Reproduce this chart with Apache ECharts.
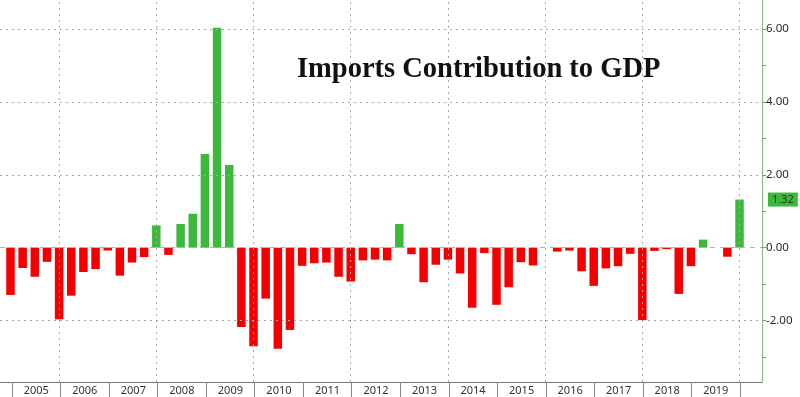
<!DOCTYPE html>
<html>
<head>
<meta charset="utf-8">
<script src="https://cdn.jsdelivr.net/npm/echarts@6/dist/echarts.min.js"></script>
<style>
  html, body { margin: 0; padding: 0; background: #fff; }
  #chart { width: 800px; height: 397px; }
</style>
</head>
<body>
<div id="chart"></div>
<script>
// 年份（下方标签）
const years = ['2005', '2006', '2007', '2008', '2009', '2010', '2011', '2012',
    '2013', '2014', '2015', '2016', '2017', '2018', '2019'];

// 季度数值（按顺序，共61个）
const contribution = [
    -1.30, -0.56, -0.80, -0.39, -1.97, -1.32, -0.67, -0.59,
    -0.08, -0.77, -0.41, -0.26, 0.61, -0.20, 0.65, 0.93,
    2.57, 6.04, 2.27, -2.18, -2.71, -1.40, -2.78, -2.26,
    -0.50, -0.43, -0.41, -0.80, -0.93, -0.35, -0.33, -0.35,
    0.65, -0.18, -0.95, -0.47, -0.33, -0.71, -1.65, -0.15,
    -1.57, -1.09, -0.40, -0.49, 0.00, -0.11, -0.08, -0.65,
    -1.05, -0.57, -0.51, -0.17, -1.99, -0.09, -0.04, -1.27,
    -0.51, 0.22, 0.00, -0.25, 1.32
];

// 右侧坐标轴
const yLabels = [-2, 0, 2, 4, 6];
const yTicks = [-3, -2, -1, 0, 1, 2, 3, 4, 5, 6];
// 横向网格线（0 另画虚线）
const hGrid = [-2, 2, 4, 6];
// 竖向网格线（每两年一条，按柱子序号）
const vGrid = [4, 12, 20, 28, 36, 44, 52, 60];

const lastValue = contribution[contribution.length - 1];

const myChart = echarts.init(document.getElementById('chart'));

const dotted = { color: '#a8a8a8', type: [2, 4], width: 1 };

const option = {
    animation: false,
    backgroundColor: '#fff',
    title: {
        text: 'Imports Contribution to GDP',
        left: 292,
        top: 50,
        textStyle: {
            fontFamily: 'Liberation Serif',
            fontWeight: 'bold',
            fontSize: 28.5,
            color: '#111'
        }
    },
    grid: [
        { left: 0, right: 38, top: 0, bottom: 15 },
        { left: 12, right: 60, top: 382, height: 0 }
    ],
    xAxis: [
        {
            type: 'value',
            gridIndex: 0,
            min: -0.864,
            max: 61.85,
            axisLine: { show: true, onZero: false, lineStyle: { color: '#777', width: 1 } },
            axisTick: { show: false },
            axisLabel: { show: false },
            splitLine: { show: false }
        },
        {
            type: 'category',
            gridIndex: 1,
            data: years,
            position: 'bottom',
            boundaryGap: true,
            axisLine: { show: false },
            axisTick: { show: true, length: 15, interval: 0, lineStyle: { color: '#888' } },
            axisLabel: {
                interval: 0,
                margin: 3,
                fontSize: 11,
                fontFamily: 'Noto Sans',
                color: '#333'
            },
            splitLine: { show: false }
        }
    ],
    yAxis: [
        {
            type: 'value',
            gridIndex: 0,
            position: 'right',
            min: -3.69,
            max: 6.8,
            splitNumber: 5,
            axisLine: { show: true, onZero: false, lineStyle: { color: '#86bb86', width: 1 } },
            axisTick: {
                show: true,
                length: 4,
                customValues: yTicks,
                lineStyle: { color: '#6aa86a' }
            },
            axisLabel: {
                customValues: yLabels,
                margin: 4,
                fontSize: 11.5,
                fontFamily: 'Noto Sans',
                color: '#2a2a2a',
                formatter: v => v.toFixed(2)
            },
            splitLine: { show: false }
        },
        { type: 'value', gridIndex: 1, show: false }
    ],
    series: [
        {
            name: 'Imports',
            type: 'bar',
            xAxisIndex: 0,
            yAxisIndex: 0,
            barWidth: 8.5,
            data: contribution.map((v, i) => [i, v]),
            itemStyle: {
                color: p => (p.value[1] >= 0 ? '#3cb83c' : '#f50000')
            },
            markLine: {
                silent: true,
                symbol: 'none',
                animation: false,
                data: [
                    ...vGrid.map(v => ({ xAxis: v, lineStyle: dotted, label: { show: false } })),
                    ...hGrid.map(v => ({ yAxis: v, lineStyle: dotted, label: { show: false } })),
                    {
                        yAxis: 0,
                        lineStyle: { color: '#9cbf9c', type: [5, 5], width: 1 },
                        label: { show: false }
                    },
                    {
                        yAxis: lastValue,
                        lineStyle: { color: 'rgba(0,0,0,0)', width: 0 },
                        label: {
                            show: true,
                            position: 'end',
                            distance: 6,
                            formatter: lastValue.toFixed(2),
                            backgroundColor: '#3cb83c',
                            color: '#1d3a1d',
                            fontSize: 11,
                            fontFamily: 'Noto Sans',
                            padding: [2, 4, 1, 4]
                        }
                    }
                ]
            }
        }
    ]
};

myChart.setOption(option);
</script>
</body>
</html>
